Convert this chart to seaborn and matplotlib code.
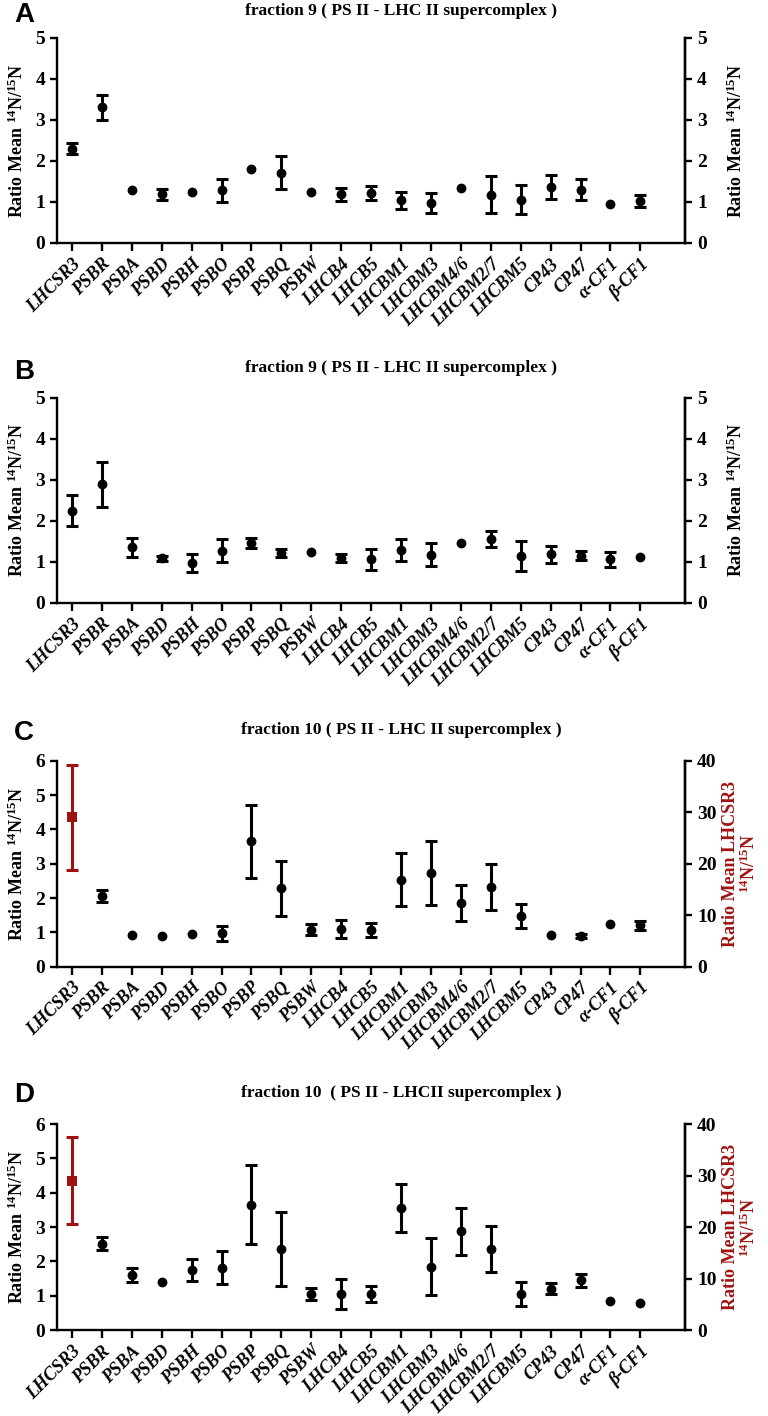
import numpy as np
import matplotlib
matplotlib.use("Agg")
import matplotlib.pyplot as plt
import seaborn as sns

nan = np.nan

PROTEINS = ["LHCSR3", "PSBR", "PSBA", "PSBD", "PSBH", "PSBO", "PSBP", "PSBQ",
            "PSBW", "LHCB4", "LHCB5", "LHCBM1", "LHCBM3", "LHCBM4/6", "LHCBM2/7",
            "LHCBM5", "CP43", "CP47", "α-CF1", "β-CF1"]

# panel A - fraction 9
A_MEAN = [2.30, 3.31, 1.28, 1.19, 1.25, 1.28, 1.81, 1.71, 1.24, 1.19,
          1.21, 1.04, 0.98, 1.33, 1.18, 1.06, 1.37, 1.30, 0.96, 1.02]
A_ERR = [0.14, 0.31, 0, 0.13, 0, 0.27, 0, 0.40, 0, 0.16,
         0.17, 0.20, 0.24, 0, 0.45, 0.35, 0.30, 0.26, 0, 0.14]

# panel B - fraction 9
B_MEAN = [2.25, 2.89, 1.36, 1.09, 0.98, 1.27, 1.46, 1.22, 1.24, 1.09,
          1.06, 1.29, 1.17, 1.47, 1.56, 1.15, 1.19, 1.15, 1.06, 1.12]
B_ERR = [0.37, 0.54, 0.23, 0.06, 0.22, 0.28, 0.13, 0.10, 0, 0.10,
         0.26, 0.26, 0.28, 0, 0.20, 0.36, 0.21, 0.11, 0.18, 0]

# panel C - fraction 10 (LHCSR3 on right axis)
C_MEAN = [nan, 2.05, 0.92, 0.90, 0.95, 0.97, 3.65, 2.29, 1.07, 1.10,
          1.07, 2.54, 2.72, 1.85, 2.32, 1.48, 0.93, 0.88, 1.24, 1.20]
C_ERR = [0, 0.17, 0, 0, 0, 0.22, 1.06, 0.80, 0.16, 0.26,
         0.21, 0.77, 0.93, 0.53, 0.66, 0.35, 0, 0.06, 0, 0.13]
C_LHCSR3 = 29.0
C_LHCSR3_ERR = 10.3

# panel D - fraction 10 (LHCSR3 on right axis)
D_MEAN = [nan, 2.51, 1.60, 1.40, 1.76, 1.82, 3.65, 2.36, 1.05, 1.05,
          1.05, 3.55, 1.85, 2.88, 2.36, 1.05, 1.20, 1.45, 0.86, 0.80]
D_ERR = [0, 0.19, 0.21, 0, 0.32, 0.48, 1.15, 1.07, 0.18, 0.44,
         0.22, 0.70, 0.83, 0.68, 0.66, 0.35, 0.16, 0.19, 0, 0]
D_LHCSR3 = 29.0
D_LHCSR3_ERR = 8.5

TITLES = ["fraction 9 ( PS II - LHC II supercomplex )",
          "fraction 9 ( PS II - LHC II supercomplex )",
          "fraction 10 ( PS II - LHC II supercomplex )",
          "fraction 10  ( PS II - LHCII supercomplex )"]

sns.set_style("ticks")
plt.rcParams["font.family"] = ["Liberation Serif", "DejaVu Serif"]
plt.rcParams["font.weight"] = "bold"
plt.rcParams["mathtext.fontset"] = "custom"
plt.rcParams["mathtext.rm"] = "Liberation Serif:bold"
plt.rcParams["mathtext.bf"] = "Liberation Serif:bold"
plt.rcParams["mathtext.it"] = "Liberation Serif:bold:italic"
for key in ["text.color", "axes.labelcolor", "xtick.color", "ytick.color",
            "axes.edgecolor", "xtick.labelcolor", "ytick.labelcolor"]:
    plt.rcParams[key] = "black"

RED = "#a01212"
YLABEL = r"Ratio Mean $^{14}$N/$^{15}$N"

fig = plt.figure(figsize=(7.68, 14.16), dpi=100)
x = np.arange(len(PROTEINS))

# left, bottom, width, height in figure fractions
boxes = [(0.0742, 0.8284, 0.818, 0.1448),
         (0.0742, 0.5742, 0.818, 0.1448),
         (0.0742, 0.3174, 0.818, 0.1452),
         (0.0742, 0.0607, 0.818, 0.1455)]
letters = ["A", "B", "C", "D"]
letter_y = [1416 - 15, 1416 - 372, 1416 - 733, 1416 - 1095]
title_y = [1416 - 11, 1416 - 368, 1416 - 730, 1416 - 1093]

panels = [(A_MEAN, A_ERR, None, None), (B_MEAN, B_ERR, None, None),
          (C_MEAN, C_ERR, C_LHCSR3, C_LHCSR3_ERR),
          (D_MEAN, D_ERR, D_LHCSR3, D_LHCSR3_ERR)]


def style_axis(a):
    for s in a.spines.values():
        s.set_linewidth(1.7)
        s.set_color("black")
    a.spines["top"].set_visible(False)
    a.tick_params(width=1.7, length=5, labelsize=14, colors="black")


for i, (mean, err, red_val, red_err) in enumerate(panels):
    ax = fig.add_axes(boxes[i])
    mean = np.array(mean, dtype=float)
    err = np.array(err, dtype=float)
    has_err = (err > 0) & ~np.isnan(mean)
    ax.errorbar(x[has_err], mean[has_err], yerr=err[has_err], fmt="none",
                ecolor="black", elinewidth=2.2, capsize=4.5, capthick=2.2)
    ok = ~np.isnan(mean)
    sns.scatterplot(x=x[ok], y=mean[ok], ax=ax, color="black", s=50,
                    edgecolor="black", linewidth=0, zorder=3)

    ymax = 5 if red_val is None else 6
    ax.set_ylim(0, ymax)
    ax.set_yticks(range(0, ymax + 1))
    ax.set_xlim(-0.5, 20.5)
    ax.set_xticks(x)
    style_axis(ax)
    ax.set_xticklabels(PROTEINS, rotation=45, ha="right", rotation_mode="anchor",
                       fontsize=13, fontstyle="italic", fontweight="bold")
    ax.set_ylabel(YLABEL, fontsize=13, fontweight="bold", labelpad=6)
    ax.tick_params(axis="x", length=6, pad=3)

    ax2 = ax.twinx()
    ax2.set_xlim(-0.5, 20.5)
    if red_val is None:
        ax2.set_ylim(0, 5)
        ax2.set_yticks(range(0, 6))
        ax2.set_ylabel(YLABEL, fontsize=13, fontweight="bold", labelpad=14)
    else:
        ax2.set_ylim(0, 40)
        ax2.set_yticks(range(0, 41, 10))
        ax2.errorbar([x[0]], [red_val], yerr=[red_err], fmt="none",
                     ecolor=RED, elinewidth=2.2, capsize=4.5, capthick=2.2)
        sns.scatterplot(x=[x[0]], y=[red_val], ax=ax2, color=RED, marker="s",
                        s=50, linewidth=0, zorder=3)
        ax2.set_ylabel("Ratio Mean LHCSR3\n" + r"$^{14}$N/$^{15}$N", color=RED,
                       fontsize=13, fontweight="bold", labelpad=4, linespacing=1.0)
    style_axis(ax2)
    ax2.spines["left"].set_visible(False)
    ax2.spines["bottom"].set_visible(False)

    fig.text(14 / 768, letter_y[i] / 1416, letters[i], fontsize=20,
             fontweight="bold", family="Liberation Sans", va="center", ha="left")
    fig.text(401 / 768, title_y[i] / 1416, TITLES[i], fontsize=12.5,
             fontweight="bold", va="center", ha="center")

fig.savefig("out.png", dpi=100)
